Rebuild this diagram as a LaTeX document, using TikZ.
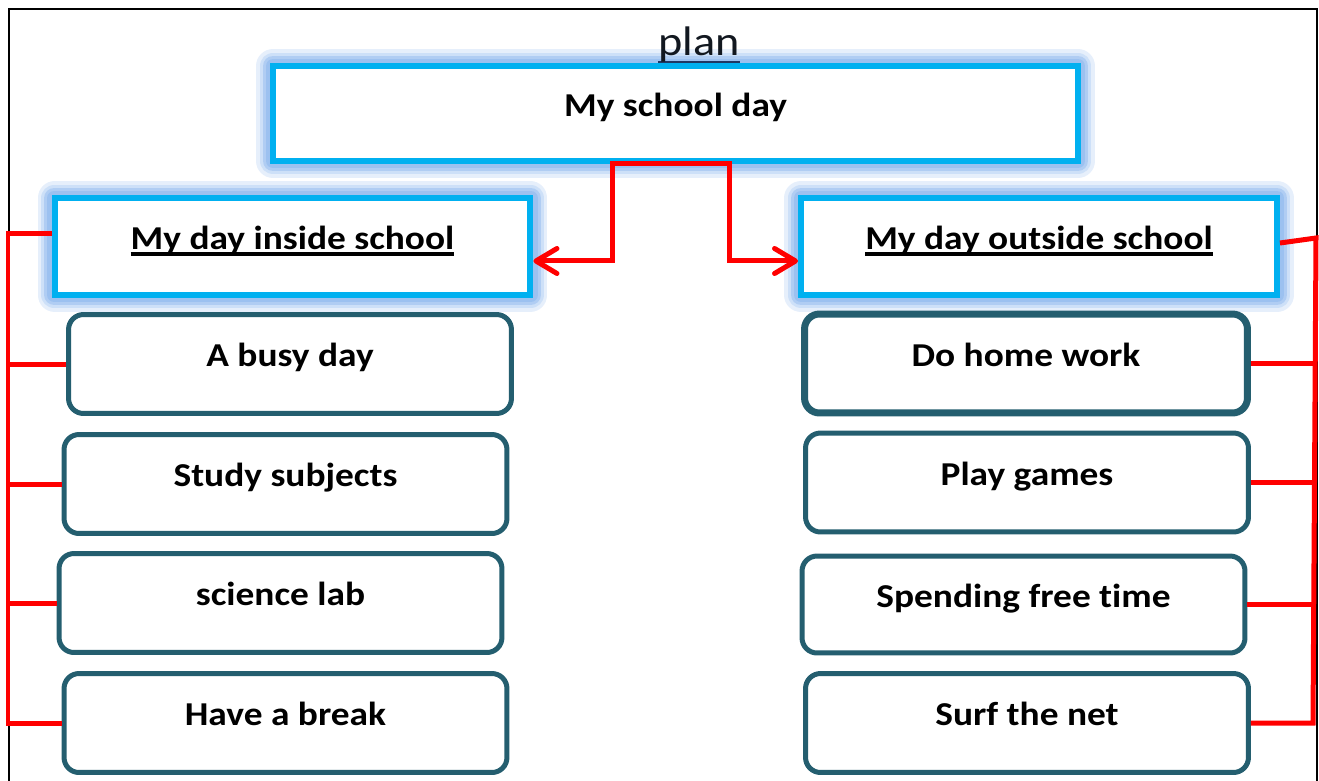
\documentclass[tikz,border=0pt]{standalone}
\usepackage{fontspec}
\setmainfont{Carlito}[FakeStretch=1.12,Ligatures=NoCommon]
\usetikzlibrary{arrows.meta}
\definecolor{boxcyan}{HTML}{00B0F0}
\definecolor{glowblue}{HTML}{9CC1F0}
\definecolor{boxteal}{HTML}{245E6F}
\definecolor{planblue}{HTML}{1F3864}
\definecolor{plantext}{HTML}{121820}
% underlined titles
\newcommand{\headline}[1]{\setbox0\hbox{#1}\rlap{\rule[-3.6pt]{\wd0}{2pt}}\box0}
\newcommand{\planline}[1]{\setbox0\hbox{#1}\rlap{\color{planblue}\rule[-4.5pt]{\wd0}{1.2pt}}\box0}

\begin{document}
\begin{tikzpicture}[x=0.02cm,y=-0.02cm,
  head/.style={draw=boxcyan,line width=0.12cm,fill=white,
    minimum width=9.52cm,minimum height=1.94cm,
    preaction={draw=glowblue!25,line width=0.68cm,line join=round},
    preaction={draw=glowblue!50,line width=0.54cm,line join=round},
    preaction={draw=glowblue!80,line width=0.42cm,line join=round},
    preaction={draw=glowblue,line width=0.3cm,line join=round},
    font=\fontsize{19}{22}\selectfont\bfseries,text height=0.45cm,text depth=0.34cm},
  topic/.style={draw=boxteal,line width=0.1cm,rounded corners=0.3cm,fill=white,
    minimum width=8.86cm,minimum height=1.98cm,
    font=\fontsize{19}{22}\selectfont\bfseries,text height=0.45cm,text depth=0.34cm},
  link/.style={draw=red,line width=0.1cm},
  frame/.style={draw=black,line width=0.05cm}]
  \useasboundingbox (0,0) rectangle (1319,781);

  \draw[frame] (9,781) -- (9,9) -- (1317,9) -- (1317,781);

  \node[head,minimum width=16.1cm,minimum height=1.9cm] (day) at (675.5,113.5) {My school day};
  \node[head] (inside) at (292.5,246.5) {\headline{My day inside school}};
  \node[head] (outside) at (1039,246.5) {\headline{My day outside school}};

  \node[anchor=base,font=\fontsize{23.5}{26}\selectfont,text=plantext] (plan) at (699,55) {\planline{plan}};

  \node[topic] (busy) at (290,364) {A busy day};
  \node[topic] (study) at (285.5,484) {Study subjects};
  \node[topic] (lab) at (280.5,603) {science lab};
  \node[topic] (brk) at (285.5,723) {Have a break};

  \node[topic,line width=0.14cm] (home) at (1026,363.5) {Do home work};
  \node[topic] (games) at (1027,482.5) {Play games};
  \node[topic,minimum height=1.94cm] (free) at (1023.5,604.5) {Spending free time};
  \node[topic] (net) at (1027,723) {Surf the net};

  \draw[link,{Straight Barb[round,length=0.42cm,width=0.5cm]}-{Straight Barb[round,length=0.42cm,width=0.5cm]}]
    ([yshift=-0.29cm]inside.east) -| ([xshift=-1.27cm]day.south)
    -- ([xshift=1.09cm]day.south) |- ([yshift=-0.29cm]outside.west);

  % left side
  \coordinate (lspine) at (8,0);
  \draw[link] ([yshift=0.27cm]inside.west) -| (lspine |- brk.west) -- (brk.west);
  \foreach \n in {busy,study,lab}
    \draw[link] (\n.west) -- (\n.west -| lspine);

  % right side
  \coordinate (rtop) at (1316,238);
  \coordinate (rbot) at (1313,723);
  \draw[link] ([yshift=0.07cm]outside.east) -- (rtop) -- (rbot) -- (net.east);
  \foreach \n in {home,games,free}
    \draw[link] (\n.east) -- (\n.east -| rbot);
\end{tikzpicture}
\end{document}
